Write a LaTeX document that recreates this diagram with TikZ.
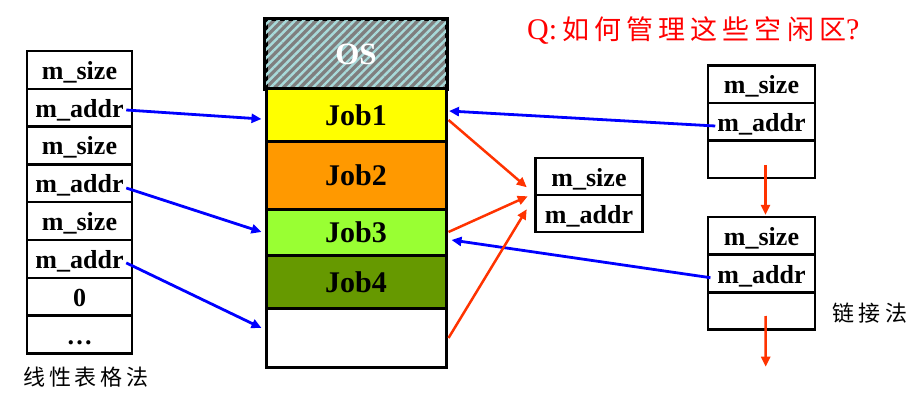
\documentclass[tikz,border=0pt]{standalone}
\usepackage{fontspec}
\setmainfont{Liberation Serif}
\newfontfamily\cjk{Noto Sans CJK SC}
\usetikzlibrary{arrows.meta,patterns.meta,calc}
\definecolor{jobA}{HTML}{FFFF00}
\definecolor{jobB}{HTML}{FF9900}
\definecolor{jobC}{HTML}{99FF33}
\definecolor{jobD}{HTML}{669900}
\definecolor{osgray}{HTML}{7F7F7F}
\definecolor{osstripe}{HTML}{A8DADA}
\definecolor{linkred}{HTML}{FF3300}
\definecolor{linkblue}{HTML}{0000FF}
\tikzset{
  cell/.style={draw, line width=2.5pt, minimum width=105pt, minimum height=37.8pt,
    inner sep=0pt, text height=19pt, text depth=0pt,
    font=\fontsize{26}{26}\selectfont\bfseries},
  rcell/.style={cell, minimum width=107pt, minimum height=37.5pt},
  mem/.style={draw, line width=3pt, minimum width=180pt, inner sep=0pt,
    text height=21pt, text depth=0pt, font=\fontsize{30}{30}\selectfont\bfseries},
  bluearrow/.style={draw=linkblue, line width=2.8pt, -{Triangle[length=10pt,width=9pt]}},
  redarrow/.style={draw=linkred, line width=2.5pt, -{Triangle[length=10pt,width=9pt]}},
  cjklabel/.style={inner sep=0pt, font=\cjk\fontsize{22}{22}\selectfont\addfontfeature{LetterSpace=18}}
}
\begin{document}
\begin{tikzpicture}[x=1pt,y=-1pt]
\useasboundingbox[fill=white] (0,0) rectangle (924,409);

% title
\node[anchor=base west, inner sep=0pt, text=red] (title) at (527,40)
  {\fontsize{30}{30}\selectfont Q:\,{\cjk\fontsize{27}{27}\selectfont\addfontfeature{LetterSpace=19}如何管理这些空闲区}?};

% memory column
\node[mem, minimum height=68.5pt, fill=osgray, text=white] (os) at (356,54.25) {};
\fill[pattern={Lines[angle=45,distance=6pt,line width=2.4pt]}, pattern color=osstripe]
  (os.south west) rectangle (os.north east);
\draw[line width=3pt] (os.south west) rectangle (os.north east);
\node[mem, minimum height=68.5pt, draw=none, text=white, font=\fontsize{31}{31}\selectfont\bfseries] (oslabel) at (356,54.25) {OS};
\node[mem, minimum height=53pt, fill=jobA] (job1) at (356,115) {Job1};
\node[mem, minimum height=67.5pt, fill=jobB] (job2) at (356,175.25) {Job2};
\node[mem, minimum height=46pt, fill=jobC] (job3) at (356,232) {Job3};
\node[mem, minimum height=53.5pt, fill=jobD] (job4) at (356,281.75) {Job4};
\node[mem, minimum height=59pt, fill=white] (free) at (356,338) {};

% left table
\node[cell] (l1) at (79.5,69.9) {m\_size};
\node[cell] (l2) at (79.5,107.7) {m\_addr};
\node[cell] (l3) at (79.5,145.5) {m\_size};
\node[cell] (l4) at (79.5,183.3) {m\_addr};
\node[cell] (l5) at (79.5,221.1) {m\_size};
\node[cell] (l6) at (79.5,258.9) {m\_addr};
\node[cell] (l7) at (79.5,296.7) {0};
\node[cell] (l8) at (79.5,334.5) {\dots};
\node[cjklabel] (ltitle) at (86,377) {线性表格法};

% middle box
\node[rcell, minimum height=37pt] (m1) at (589,176.5) {m\_size};
\node[rcell, minimum height=37pt] (m2) at (589,213.5) {m\_addr};

% right linked list
\node[rcell] (r1a) at (761.5,84.2) {m\_size};
\node[rcell] (r1b) at (761.5,121.7) {m\_addr};
\node[rcell] (r1c) at (761.5,159.5) {};
\node[rcell] (r2a) at (761.5,235.9) {m\_size};
\node[rcell] (r2b) at (761.5,273.6) {m\_addr};
\node[rcell] (r2c) at (761.5,310.8) {};
\node[cjklabel, font=\cjk\fontsize{22}{22}\selectfont\addfontfeature{LetterSpace=20}] (rtitle) at (870,313) {链接法};
\coordinate (tailend) at (765.7,366.7);

% blue arrows (left table -> memory)
\draw[bluearrow] ($(l2.east)+(-7,2.3)$) -- ($(job1.west)+(-3,4)$);
\draw[bluearrow] ($(l4.east)+(-7,4.7)$) -- ($(job3.west)+(-3,0)$);
\draw[bluearrow] ($(l6.east)+(-7,4)$) -- ($(free.west)+(-3,-10)$);

% blue arrows (linked list -> memory)
\draw[bluearrow] ($(r1b.west)+(8.5,4.3)$) -- ($(job1.east)+(1.5,-4)$);
\draw[bluearrow] ($(r2b.west)+(3.7,4.1)$) -- ($(job3.east)+(4,8)$);

% red arrows (memory -> middle box)
\draw[redarrow] ($(job1.east)+(1,5)$) -- ($(m1.south west)+(-7.5,-9)$);
\draw[redarrow] ($(job3.east)+(1,0)$) -- ($(m1.south west)+(-6.5,0)$);
\draw[redarrow] ($(free.east)+(1,0)$) -- ($(m1.south west)+(-7.5,13)$);

% red arrows (linked list)
\draw[redarrow] ($(r1c.center)+(4,5.5)$) -- ($(r2a.north)+(4,-1)$);
\draw[redarrow] ($(r2c.center)+(4,5.2)$) -- (tailend);
\end{tikzpicture}
\end{document}
